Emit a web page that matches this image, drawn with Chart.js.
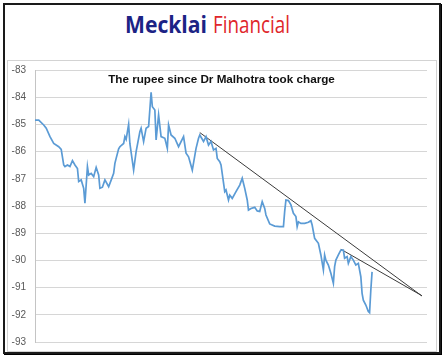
<!DOCTYPE html>
<html lang="en">
<head>
<meta charset="UTF-8">
<title>The rupee since Dr Malhotra took charge</title>
<script src="https://cdn.jsdelivr.net/npm/chart.js"></script>
<style>
    html, body {
        margin: 0;
        padding: 0;
        background: #fff;
    }
    body {
        width: 444px;
        height: 358px;
        position: relative;
        overflow: hidden;
        font-family: "Liberation Sans", Arial, sans-serif;
    }
    .frame {
        position: absolute;
        left: 3px;
        top: 3px;
        width: 434px;
        height: 347px;
        border: 2px solid #1a1a1a;
        box-shadow: 1px 1px 0 #000;
    }
    .plotbox {
        position: absolute;
        left: 7px;
        top: 60px;
        width: 428px;
        height: 290px;
        border: 1px solid #d3d3d3;
    }
    .logo {
        position: absolute;
        top: 9px;
        left: 125px;
        white-space: nowrap;
        font-size: 24px;
        line-height: 30px;
    }
    .logo span {
        display: inline-block;
        transform-origin: 0 0;
    }
    #brand1 {
        font-family: "Open Sans", sans-serif;
        font-weight: bold;
        color: #1c2385;
    }
    #brand2 {
        font-family: "Open Sans", sans-serif;
        color: #e0262b;
        position: absolute;
        left: 88px;
        top: 0;
    }
    .title {
        position: absolute;
        left: 0;
        width: 443px;
        top: 72px;
        text-align: center;
        font-weight: bold;
        font-size: 11.7px;
        line-height: 13px;
        color: #111;
        z-index: 2;
    }
    #wrap {
        position: absolute;
        left: 0;
        top: 0;
    }
</style>
</head>
<body>
    <div class="frame"></div>
    <div class="plotbox"></div>
    <div class="logo"><span id="brand1">Mecklai</span><span id="brand2">Financial</span></div>
    <div class="title">The rupee since Dr Malhotra took charge</div>
    <div id="wrap"><canvas id="rupee" width="444" height="358"></canvas></div>

<script>
    // trading days since Dec 2024 and USD/INR, shown negative
    const days = [0, 3, 7, 9, 12, 15, 19, 21, 23, 24, 26, 28, 30, 32, 34, 35, 37, 39, 40, 42,
        43, 45, 47, 49, 51, 52, 54, 56, 59, 61, 63, 64, 65, 67, 68, 71, 72, 73, 75, 76,
        79, 81, 84, 85, 87, 89, 91, 93, 94, 96, 97, 99, 101, 104, 106, 107, 109, 112, 115, 119,
        121, 123, 126, 129, 131, 132, 135, 137, 139, 141, 143, 145, 146, 148, 149, 152, 153, 155, 156, 158,
        161, 164, 166, 168, 170, 171, 173, 176, 178, 180, 182, 184, 185, 188, 192, 196, 199, 200, 201, 203,
        205, 207, 209, 210, 211, 213, 216, 219, 221, 222, 224, 227, 229, 231, 232, 233, 235, 237, 239, 240,
        241, 243, 245, 247, 248, 250, 251, 253, 255, 257, 259, 261, 262, 263, 265, 267, 268, 269, 270];

    const rates = [-84.84, -84.84, -85.02, -85.14, -85.45, -85.70, -85.82, -85.92, -86.49, -86.55,
        -86.49, -86.55, -86.33, -86.49, -86.62, -87.10, -87.04, -87.35, -87.90, -86.55,
        -86.86, -86.80, -86.92, -86.58, -86.86, -87.35, -87.31, -87.04, -87.29, -87.05,
        -86.80, -86.43, -86.25, -85.90, -85.82, -85.70, -85.45, -85.55, -85.00, -85.70,
        -86.68, -86.00, -85.27, -85.14, -85.63, -85.14, -85.08, -83.82, -84.35, -84.47,
        -85.57, -84.65, -85.45, -85.51, -85.88, -85.02, -85.39, -85.51, -85.82, -85.45,
        -86.06, -86.19, -86.68, -85.88, -85.51, -85.39, -85.63, -85.45, -85.76, -85.63,
        -85.94, -85.88, -86.25, -86.37, -86.49, -87.47, -87.41, -87.78, -87.60, -87.72,
        -87.47, -87.23, -86.98, -87.35, -87.78, -88.15, -88.09, -88.05, -88.18, -88.20,
        -87.84, -88.09, -88.33, -88.66, -88.74, -88.76, -88.76, -88.20, -87.78, -87.80,
        -87.96, -88.27, -88.39, -88.76, -88.58, -88.64, -88.64, -88.60, -88.54, -88.70,
        -89.19, -89.37, -89.80, -90.35, -89.80, -89.99, -90.17, -90.47, -90.84, -90.23,
        -89.99, -89.80, -89.62, -89.62, -89.92, -89.86, -90.11, -89.86, -89.99, -90.17,
        -90.11, -90.60, -91.21, -91.46, -91.64, -91.88, -91.92, -91.09, -90.42];

    // hand-drawn trend lines
    const trend1Days = [132, 310];
    const trend1Rates = [-85.30, -91.31];
    const trend2Days = [245, 310];
    const trend2Rates = [-89.59, -91.30];

    const yMin = -93;
    const yMax = -83;
    const xMax = 314;

    function pairs(xs, ys) {
        return xs.map((x, i) => ({ x: x, y: ys[i] }));
    }

    // squeeze the logo words to the width they have in the picture
    function fitWord(id, target) {
        const el = document.getElementById(id);
        const w = el.getBoundingClientRect().width;
        el.style.transform = 'scaleX(' + (target / w) + ')';
    }
    fitWord('brand1', 82);
    fitWord('brand2', 77);

    const config = {
        type: 'line',
        data: {
            datasets: [
                {
                    data: pairs(days, rates),
                    borderColor: '#5b9bd5',
                    borderWidth: 1.7,
                    pointRadius: 0,
                    tension: 0
                },
                {
                    data: pairs(trend1Days, trend1Rates),
                    borderColor: '#3a3a3a',
                    borderWidth: 1,
                    pointRadius: 0
                },
                {
                    data: pairs(trend2Days, trend2Rates),
                    borderColor: '#3a3a3a',
                    borderWidth: 1,
                    pointRadius: 0
                }
            ]
        },
        options: {
            responsive: false,
            animation: false,
            layout: {
                padding: { left: 0, top: 70, right: 17, bottom: 16 }
            },
            plugins: {
                legend: { display: false },
                tooltip: { enabled: false }
            },
            scales: {
                x: {
                    type: 'linear',
                    min: 0,
                    max: xMax,
                    display: false
                },
                y: {
                    min: yMin,
                    max: yMax,
                    afterFit: (scale) => { scale.width = 35; },
                    ticks: {
                        stepSize: 1,
                        padding: 9,
                        color: '#595959',
                        font: { family: 'Liberation Sans', size: 10 }
                    },
                    grid: {
                        color: '#d6d6d6',
                        drawTicks: false
                    },
                    border: {
                        color: '#c4c4c4'
                    }
                }
            }
        }
    };

    const rupeeChart = new Chart(document.getElementById('rupee'), config);
</script>
</body>
</html>
